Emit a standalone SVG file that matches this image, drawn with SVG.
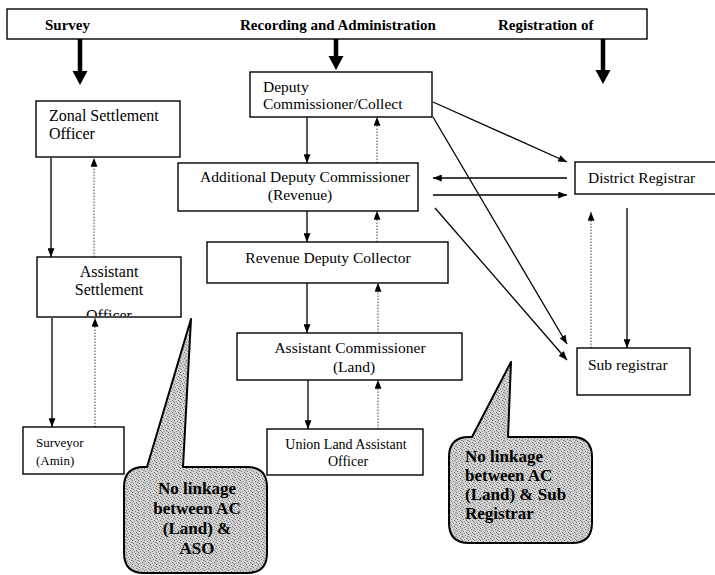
<svg xmlns="http://www.w3.org/2000/svg" width="715" height="575" viewBox="0 0 715 575">
<defs>
<marker id="ah" viewBox="0 0 10 8" refX="10" refY="4" markerWidth="9" markerHeight="7" markerUnits="userSpaceOnUse" orient="auto">
<path d="M0,0 L10,4 L0,8 Z" fill="#000"/>
</marker>
<pattern id="stip" width="6" height="6" patternUnits="userSpaceOnUse">
<rect width="6" height="6" fill="#d2d2d2"/>
<rect x="0" y="0" width="1" height="1" fill="#6a6a6a"/>
<rect x="3" y="1" width="1" height="1" fill="#7a7a7a"/>
<rect x="5" y="2" width="1" height="1" fill="#888"/>
<rect x="1" y="3" width="1" height="1" fill="#777"/>
<rect x="4" y="4" width="1" height="1" fill="#6e6e6e"/>
<rect x="2" y="5" width="1" height="1" fill="#909090"/>
<rect x="0" y="2" width="1" height="1" fill="#a0a0a0"/>
<rect x="5" y="5" width="1" height="1" fill="#9a9a9a"/>
</pattern>
<clipPath id="asoclip"><rect x="37" y="257" width="144" height="59"/></clipPath>
</defs>
<style>
.box{fill:#fff;stroke:#000;stroke-width:1.4}
.t{font-family:"Liberation Serif","Times New Roman",serif;font-size:15.5px;fill:#000}
.hdr{font-weight:bold;font-size:15px}
.co{font-weight:bold;font-size:17px}
.sol{stroke:#000;stroke-width:1.3;fill:none;marker-end:url(#ah)}
.dot{stroke:#444;stroke-width:1;stroke-dasharray:1.5 1.5;fill:none;marker-end:url(#ah)}
.thick{stroke:#000;stroke-width:4.5;fill:none}
.call{fill:url(#stip);stroke:#000;stroke-width:2;stroke-linejoin:round}
</style>
<rect width="715" height="575" fill="#fff"/>

<g id="header">
<rect class="box" x="7" y="9" width="640" height="30"/>
<text class="t hdr" x="45" y="30">Survey</text>
<text class="t hdr" x="240" y="30">Recording and Administration</text>
<text class="t hdr" x="498" y="30">Registration of</text>
</g>

<g id="connectors">
<line class="thick" x1="80" y1="39" x2="80" y2="72"/>
<polygon points="72.5,71 87.5,71 80,85" fill="#000"/>
<line class="thick" x1="336" y1="39" x2="336" y2="57"/>
<polygon points="328.5,56 343.5,56 336,70" fill="#000"/>
<line class="thick" x1="603" y1="39" x2="603" y2="71"/>
<polygon points="595.5,70 610.5,70 603,84" fill="#000"/>

<path class="sol" d="M51 158 V257"/>
<path class="dot" d="M94 257 V158"/>
<path class="sol" d="M52 318 V427"/>
<path class="dot" d="M95 427 V318"/>

<path class="sol" d="M307 117 V163"/>
<path class="dot" d="M377 163 V117"/>
<path class="sol" d="M307 211 V242"/>
<path class="dot" d="M377 242 V211"/>
<path class="sol" d="M307 283 V333"/>
<path class="dot" d="M378 333 V283"/>
<path class="sol" d="M308 380 V429"/>
<path class="dot" d="M378 429 V380"/>

<path class="sol" d="M433 102 L567 162"/>
<path class="sol" d="M567 178 L433 178"/>
<path class="sol" d="M433 195 L567 195"/>
<path class="sol" d="M433 117 L567 344"/>
<path class="sol" d="M435 208 L567 360"/>
<path class="dot" d="M591 348 V212"/>
<path class="sol" d="M627 208 V348"/>
</g>

<g id="zonal">
<rect class="box" x="36" y="101" width="144" height="56"/>
<text class="t" x="49" y="121" style="font-size:16px">Zonal Settlement</text>
<text class="t" x="49" y="139" style="font-size:16px">Officer</text>
</g>

<g id="aso">
<rect class="box" x="37" y="257" width="144" height="60"/>
<g clip-path="url(#asoclip)" text-anchor="middle">
<text class="t" x="109" y="277" style="font-size:16px">Assistant</text>
<text class="t" x="109" y="295" style="font-size:16px">Settlement</text>
<text class="t" x="109" y="321" style="font-size:16px">Officer</text>
</g>
</g>

<g id="surveyor">
<rect class="box" x="23" y="427" width="101" height="47"/>
<text class="t" x="36" y="447" style="font-size:13px">Surveyor</text>
<text class="t" x="36" y="465" style="font-size:13px">(Amin)</text>
</g>

<g id="deputy">
<rect class="box" x="250" y="72" width="182" height="45"/>
<text class="t" x="263" y="92">Deputy</text>
<text class="t" x="263" y="109">Commissioner/Collect</text>
</g>

<g id="adc">
<rect class="box" x="178" y="163" width="240" height="48"/>
<text class="t" x="305" y="182" text-anchor="middle">Additional Deputy Commissioner</text>
<text class="t" x="300" y="200" text-anchor="middle">(Revenue)</text>
</g>

<g id="rdc">
<rect class="box" x="207" y="242" width="241" height="41"/>
<text class="t" x="328" y="263" text-anchor="middle">Revenue Deputy Collector</text>
</g>

<g id="ac">
<rect class="box" x="237" y="333" width="225" height="47"/>
<text class="t" x="350" y="353" text-anchor="middle">Assistant Commissioner</text>
<text class="t" x="354" y="372" text-anchor="middle">(Land)</text>
</g>

<g id="ulao">
<rect class="box" x="267" y="429" width="156" height="46"/>
<text class="t" x="346" y="449" text-anchor="middle" style="font-size:14px">Union Land Assistant</text>
<text class="t" x="348" y="466" text-anchor="middle" style="font-size:14px">Officer</text>
</g>

<g id="district-registrar">
<rect class="box" x="575" y="162" width="150" height="32"/>
<text class="t" x="588" y="183">District Registrar</text>
</g>

<g id="sub-registrar">
<rect class="box" x="577" y="348" width="113" height="47"/>
<text class="t" x="588" y="370">Sub registrar</text>
</g>

<g id="callout-aso">
<path class="call" d="M144 467 L147 467 L191 319 L183 467 L247 467 Q267 467 267 487 L267 553 Q267 573 247 573 L144 573 Q124 573 124 553 L124 487 Q124 467 144 467 Z"/>
<g text-anchor="middle">
<text class="t co" x="197" y="494">No linkage</text>
<text class="t co" x="197" y="514">between AC</text>
<text class="t co" x="197" y="534">(Land) &amp;</text>
<text class="t co" x="197" y="554">ASO</text>
</g>
</g>

<g id="callout-sub">
<path class="call" d="M469 437 L472 437 L511 362 L508 437 L572 437 Q592 437 592 457 L592 523 Q592 543 572 543 L469 543 Q449 543 449 523 L449 457 Q449 437 469 437 Z"/>
<text class="t co" x="465" y="462">No linkage</text>
<text class="t co" x="465" y="481">between AC</text>
<text class="t co" x="465" y="500">(Land) &amp; Sub</text>
<text class="t co" x="465" y="519">Registrar</text>
</g>
</svg>
